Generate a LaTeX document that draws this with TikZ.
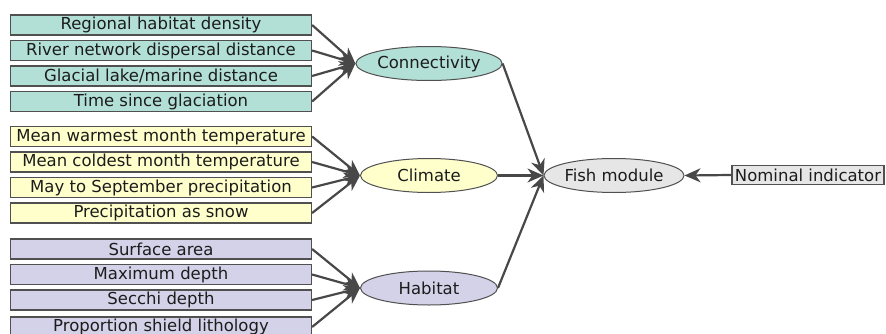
\documentclass[tikz,border=0pt]{standalone}
\usepackage{fontspec}
\setmainfont{DejaVu Sans}
\usetikzlibrary{arrows.meta,shapes.geometric,positioning}

\definecolor{connfill}{RGB}{178,224,214}
\definecolor{climfill}{RGB}{255,255,204}
\definecolor{habfill}{RGB}{212,210,232}
\definecolor{fishfill}{RGB}{230,230,230}
\definecolor{edgegray}{RGB}{80,80,80}
\definecolor{linkgray}{RGB}{72,72,72}
\definecolor{textgray}{RGB}{28,28,28}

\begin{document}
\begin{tikzpicture}
    [
        Indicator/.style={rectangle,minimum width=301pt,minimum height=20pt,inner sep=0pt,draw=edgegray,line width=1.2pt,text=textgray,font=\fontsize{16.5}{18}\selectfont},
        Module/.style={ellipse,minimum width=137pt,minimum height=34pt,inner sep=0pt,draw=edgegray,line width=1pt,text=textgray,font=\fontsize{16.5}{18}\selectfont},
        Nominal/.style={rectangle,minimum width=152pt,minimum height=19pt,inner sep=0pt,draw=edgegray,line width=1.2pt,fill=fishfill,text=textgray,font=\fontsize{16.5}{18}\selectfont},
        Link/.style={draw=linkgray,line width=2.2pt,-{Stealth[length=16pt,width=14pt,inset=5pt]}}
    ]

    \useasboundingbox (0,0) rectangle (886pt,333pt);

    \node[Indicator,fill=connfill] (regional_density) at (161pt,308pt) {Regional habitat density};
    \node[Indicator,fill=connfill] (river_dispersal) at (161pt,282.5pt) {River network dispersal distance};
    \node[Indicator,fill=connfill] (glacial_distance) at (161pt,257pt) {Glacial lake/marine distance};
    \node[Indicator,fill=connfill] (time_glaciation) at (161pt,231.5pt) {Time since glaciation};

    \node[Indicator,fill=climfill] (warmest_temp) at (161pt,196.5pt) {Mean warmest month temperature};
    \node[Indicator,fill=climfill] (coldest_temp) at (161pt,171pt) {Mean coldest month temperature};
    \node[Indicator,fill=climfill] (may_sept_precip) at (161pt,145.5pt) {May to September precipitation};
    \node[Indicator,fill=climfill] (snow_precip) at (161pt,120pt) {Precipitation as snow};

    \node[Indicator,fill=habfill] (surface_area) at (161pt,84pt) {Surface area};
    \node[Indicator,fill=habfill] (max_depth) at (161pt,58.5pt) {Maximum depth};
    \node[Indicator,fill=habfill] (secchi_depth) at (161pt,33pt) {Secchi depth};
    \node[Indicator,fill=habfill] (shield_lithology) at (161pt,6pt) {Proportion shield lithology};

    \node[Module,fill=connfill] (connectivity) at (429pt,269.5pt) {Connectivity};
    \node[Module,fill=climfill] (climate) at (429pt,157.5pt) {Climate};
    \node[Module,fill=habfill] (habitat) at (429pt,45pt) {Habitat};
    \node[Module,fill=fishfill] (fish_module) at (614pt,157.5pt) {Fish module};
    \node[Nominal] (nominal_indicator) at (808pt,158pt) {Nominal indicator};

    \draw[Link] (regional_density.east) -- (connectivity.west);
    \draw[Link] (river_dispersal.east) -- (connectivity.west);
    \draw[Link] (glacial_distance.east) -- (connectivity.west);
    \draw[Link] (time_glaciation.east) -- (connectivity.west);

    \draw[Link] (warmest_temp.east) -- (climate.west);
    \draw[Link] (coldest_temp.east) -- (climate.west);
    \draw[Link] (may_sept_precip.east) -- (climate.west);
    \draw[Link] (snow_precip.east) -- (climate.west);

    \draw[Link] (surface_area.east) -- (habitat.west);
    \draw[Link] (max_depth.east) -- (habitat.west);
    \draw[Link] (secchi_depth.east) -- (habitat.west);
    \draw[Link] (shield_lithology.east) -- (habitat.west);

    \draw[Link] (connectivity.east) -- (fish_module.west);
    \draw[Link] (climate.east) -- (fish_module.west);
    \draw[Link] (habitat.east) -- (fish_module.west);
    \draw[Link] (nominal_indicator.west) -- (fish_module.east);
\end{tikzpicture}
\end{document}
